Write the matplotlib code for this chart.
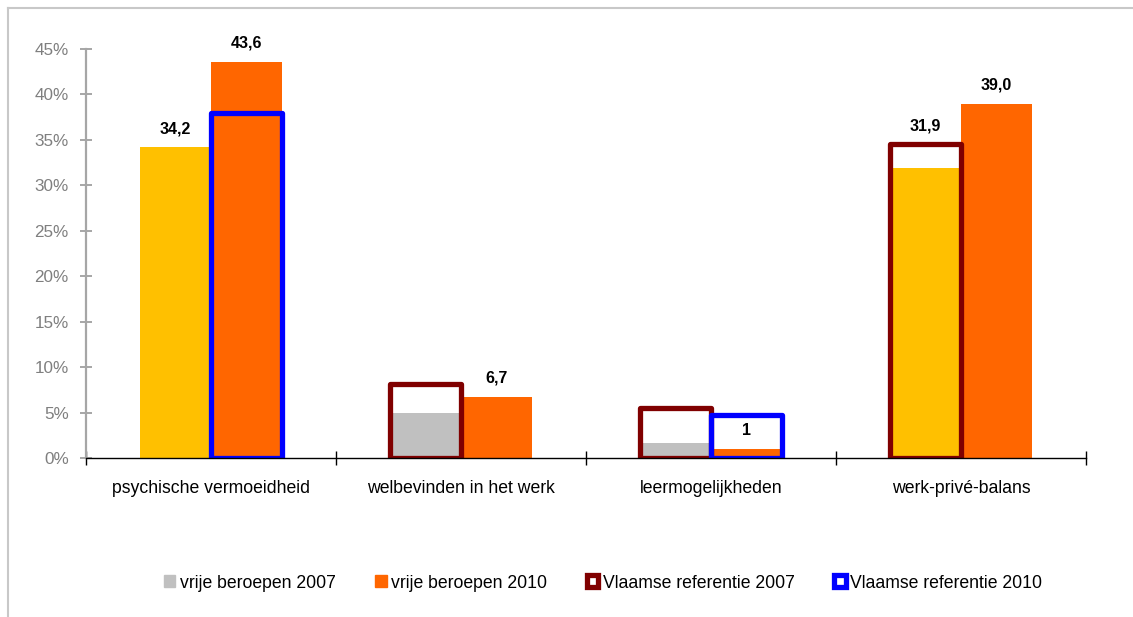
import matplotlib
matplotlib.use("Agg")
import matplotlib.pyplot as plt
from matplotlib.patches import Patch, Rectangle
from matplotlib.lines import Line2D
import numpy as np

plt.rcParams["font.family"] = ["Liberation Sans", "DejaVu Sans"]

# Data
categories = ["psychische vermoeidheid", "welbevinden in het werk",
              "leermogelijkheden", "werk-privé-balans"]
vrij_2007 = [34.2, 4.9, 1.7, 31.9]
vrij_2010 = [43.6, 6.7, 1.0, 39.0]
# significant results are coloured, the others are grey
sign_2007 = [True, False, False, True]
ref_2007 = [None, 8.1, 5.55, 34.5]
ref_2010 = [38.0, None, 4.7, None]
labels_2007 = ["34,2", "", "", "31,9"]
labels_2010 = ["43,6", "6,7", "1", "39,0"]
yticks = [0, 5, 10, 15, 20, 25, 30, 35, 40, 45]
legend_labels = ["vrije beroepen 2007", "vrije beroepen 2010",
                 "Vlaamse referentie 2007", "Vlaamse referentie 2010"]

YELLOW = "#FFC000"
ORANGE = "#FF6600"
GREY = "#C0C0C0"
DARKRED = "#800000"
BLUE = "#0000FF"

label_kw = dict(ha="center", va="bottom", fontweight="bold", zorder=4,
                fontsize=11.5)

fig = plt.figure(figsize=(11.33, 6.17), dpi=100)
ax = fig.add_axes([86 / 1133, 1 - 458 / 617, 1000 / 1133, (458 - 49) / 617])

x = np.arange(len(categories)) + 0.5
w = 0.285
x07 = x - w / 2
x10 = x + w / 2

c07 = [YELLOW if s else GREY for s in sign_2007]
ax.bar(x07, vrij_2007, width=w, color=c07, zorder=2)
ax.bar(x10, vrij_2010, width=w, color=ORANGE, zorder=2)

# reference outlines
for xi, r in zip(x07, ref_2007):
    if r is not None:
        ax.add_patch(Rectangle((xi - w / 2, 0), w, r, fill=False,
                               edgecolor=DARKRED, linewidth=3.8, zorder=3,
                               joinstyle="round"))
for xi, r in zip(x10, ref_2010):
    if r is not None:
        ax.add_patch(Rectangle((xi - w / 2, 0), w, r, fill=False,
                               edgecolor=BLUE, linewidth=3.8, zorder=3,
                               joinstyle="round"))

# value labels
for i, (xi, v, lab) in enumerate(zip(x07, vrij_2007, labels_2007)):
    if lab:
        base = v
        if ref_2007[i] is not None and ref_2007[i] > v:
            base = ref_2007[i]
        ax.annotate(lab, (xi, base), xytext=(0, 8), textcoords="offset points",
                    **label_kw)
for xi, v, lab in zip(x10, vrij_2010, labels_2010):
    if lab:
        ax.annotate(lab, (xi, v), xytext=(0, 8), textcoords="offset points",
                    **label_kw)

ax.set_xlim(0, len(categories))
ax.set_ylim(0, 45)

# axes styling
for s in ["top", "right"]:
    ax.spines[s].set_visible(False)
ax.spines["left"].set_color("#A6A6A6")
ax.spines["left"].set_linewidth(1.6)
ax.spines["bottom"].set_color("black")
ax.spines["bottom"].set_linewidth(1.0)
ax.spines["bottom"].set_zorder(5)

ax.set_yticks(yticks)
ax.set_yticklabels([f"{t}%" for t in yticks])
ax.tick_params(axis="y", direction="inout", length=9, width=1.4,
               color="#A6A6A6", labelcolor="#7F7F7F", labelsize=12.3, pad=8)

ax.set_xticks(np.arange(len(categories) + 1))
ax.set_xticklabels([])
ax.tick_params(axis="x", which="major", direction="inout", length=10,
               width=1.0, color="black")
ax.set_xticks(x, minor=True)
ax.set_xticklabels(categories, minor=True)
ax.tick_params(axis="x", which="minor", length=0, labelsize=12.7, pad=16,
               labelcolor="black")

# legend
handles = [
    Patch(facecolor=GREY, edgecolor=GREY),
    Patch(facecolor=ORANGE, edgecolor=ORANGE),
    Patch(facecolor="white", edgecolor=DARKRED, linewidth=3.8),
    Patch(facecolor="white", edgecolor=BLUE, linewidth=3.8),
]
fig.legend(handles, legend_labels, loc="center", ncol=4,
           bbox_to_anchor=(603 / 1133, 1 - 583 / 617), frameon=False,
           fontsize=12.7, handlelength=0.65, handleheight=0.65,
           handletextpad=0.25, columnspacing=2.25)

# outer frame (top and left edges)
fig.add_artist(Line2D([8 / 1133, 8 / 1133], [0, 1 - 8 / 617],
                      transform=fig.transFigure, color="#C8C8C8", linewidth=1.5))
fig.add_artist(Line2D([8 / 1133, 1], [1 - 8 / 617, 1 - 8 / 617],
                      transform=fig.transFigure, color="#C8C8C8", linewidth=1.5))

fig.savefig("out.png", dpi=100)
